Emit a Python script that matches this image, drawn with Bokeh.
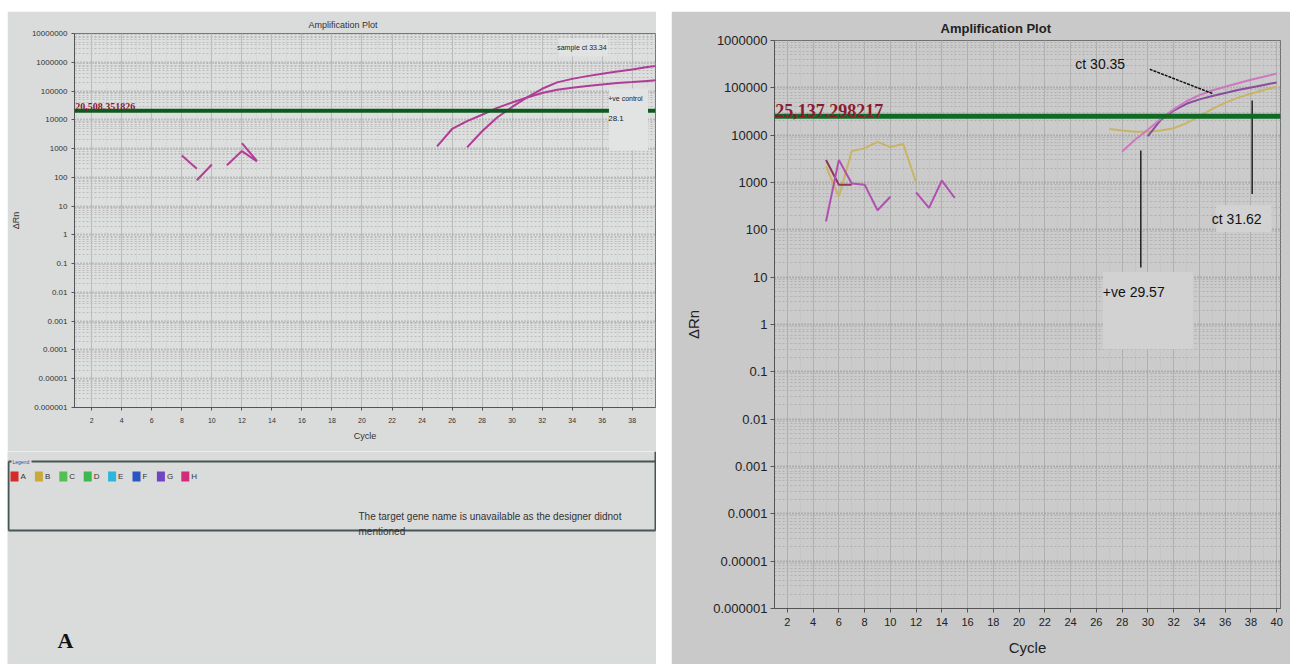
import numpy as np
from bokeh.plotting import figure
from bokeh.models import (Range1d, FixedTicker, CustomJSTickFormatter, Span,
                          BoxAnnotation, Label, Spacer)
from bokeh.layouts import row, column
from bokeh.embed import file_html
from bokeh.resources import INLINE
from bokeh.core.properties import value

# ------------------------------------------------------------------ data
# Panel A
A_THRESHOLD = 20508.351826
A_THRESHOLD_TEXT = "20,508.351826"
A_frag_cycles = [[8, 9], [9, 10], [11, 12, 13], [12, 13]]
A_frag_values = [[575, 200], [79, 280], [263, 820, 360], [1550, 370]]
A_pos_cycles = [25, 26, 27, 28, 29, 30, 31, 32, 33, 34, 35, 36, 37, 38, 39, 40]
A_pos_values = [1200, 4800, 9000, 15000, 26000, 40000, 60000, 85000, 110000,
                130000, 150000, 170000, 190000, 205000, 225000, 245000]
A_smp_cycles = [27, 28, 29, 30, 31, 32, 33, 34, 35, 36, 37, 38, 39, 40]
A_smp_values = [1100, 4000, 12000, 28000, 60000, 120000, 200000, 265000,
                330000, 400000, 480000, 560000, 680000, 790000]
A_x_ticks = [2, 4, 6, 8, 10, 12, 14, 16, 18, 20, 22, 24, 26, 28, 30, 32, 34, 36, 38]
A_legend_labels = ["A", "B", "C", "D", "E", "F", "G", "H"]
A_legend_colors = ["#d42b2b", "#c9a93c", "#52c052", "#3db84f", "#2bb6de",
                   "#2c55c4", "#7442c4", "#d42a7c"]
A_note = ["The target gene name is unavailable as the designer didnot", "mentioned"]

# Panel B
B_THRESHOLD = 25137.298217
B_THRESHOLD_TEXT = "25,137.298217"
B_mag1_cycles = [5, 6, 7, 8, 9, 10]
B_mag1_values = [150, 3000, 950, 900, 260, 500]
B_mag2_cycles = [12, 13, 14, 15]
B_mag2_values = [620, 290, 1100, 470]
B_maroon_cycles = [5, 6, 7]
B_maroon_values = [3000, 900, 900]
B_yel1_cycles = [5, 6, 7, 8, 9, 10, 11, 12]
B_yel1_values = [2200, 500, 4600, 5300, 7200, 5600, 6500, 1000]
B_yel2_cycles = [27, 28, 29, 30, 31, 32, 33, 34, 35, 36, 37, 38, 39, 40]
B_yel2_values = [13500, 12500, 11800, 11800, 12500, 14000, 18000, 25000,
                 36000, 48000, 62000, 75000, 90000, 105000]
B_pink_cycles = [28, 29, 30, 31, 32, 33, 34, 35, 36, 37, 38, 39, 40]
B_pink_values = [4500, 8000, 13000, 22000, 35000, 52000, 70000, 88000,
                 105000, 125000, 148000, 172000, 200000]
B_purp_cycles = [30, 31, 32, 33, 34, 35, 36, 37, 38, 39, 40]
B_purp_values = [9500, 21000, 33000, 46000, 57000, 67000, 78000, 90000,
                 102000, 115000, 130000]
B_x_ticks = [2, 4, 6, 8, 10, 12, 14, 16, 18, 20, 22, 24, 26, 28, 30, 32, 34, 36, 38, 40]
B_ann_ct3035_line = ([30.15, 35.05], [247000, 75000])
B_ann_ct3162_line = ([38.1, 38.1], [54000, 575])
B_ann_pos_line = ([29.45, 29.45], [4750, 16])

SANS = "Liberation Sans"
SERIF = "Liberation Serif"

fmt = CustomJSTickFormatter(code="""
    if (tick >= 1) { return Math.round(tick).toString(); }
    const d = Math.round(-Math.log10(tick));
    return tick.toFixed(d);
""")


def log_ticks(lo, hi):
    major = [10.0 ** k for k in range(lo, hi + 1)]
    minor = [m * 10.0 ** k for k in range(lo, hi) for m in range(2, 10)]
    return major, minor


def style_grid(p, major_color, minor_color, bg):
    p.ygrid.grid_line_color = major_color
    p.ygrid.grid_line_dash = "1 2"
    p.ygrid.grid_line_width = 2
    p.ygrid.minor_grid_line_color = minor_color
    p.ygrid.minor_grid_line_dash = "2 2"
    p.ygrid.minor_grid_line_width = 1
    p.xgrid.grid_line_color = minor_color
    p.xgrid.grid_line_width = 1
    p.xgrid.minor_grid_line_color = minor_color
    p.xgrid.minor_grid_line_alpha = 0.6
    p.xgrid.minor_grid_line_dash = "1 2"
    p.background_fill_color = bg


# ------------------------------------------------------------------ panel A (top)
A_GREY = "#dadbdb"
pa = figure(width=649, height=440, output_backend="svg", toolbar_location=None,
            y_axis_type="log", x_range=Range1d(0.85, 39.55), y_range=Range1d(1e-6, 1e7),
            min_border_left=65, min_border_right=1, min_border_top=22, min_border_bottom=44)
pa.frame_align = False
pa.border_fill_color = A_GREY
pa.outline_line_color = "#777777"
style_grid(pa, "#9a9a9a", "#bcbcbc", "#dddede")
maj, mnr = log_ticks(-6, 7)
pa.yaxis.ticker = FixedTicker(ticks=maj, minor_ticks=mnr)
pa.yaxis.formatter = fmt
pa.xaxis.ticker = FixedTicker(ticks=A_x_ticks, minor_ticks=list(range(1, 40)))
for ax in (pa.xaxis[0], pa.yaxis[0]):
    ax.axis_line_color = "#555555"
    ax.major_tick_line_color = "#555555"
    ax.major_tick_out = 3
    ax.major_tick_in = 0
    ax.minor_tick_line_color = None
    ax.major_label_text_font = SANS
    ax.major_label_text_color = "#333333"
    ax.axis_label_text_font = SANS
    ax.axis_label_text_font_style = "normal"
    ax.axis_label_text_color = "#333333"
pa.yaxis.major_label_text_font_size = "8px"
pa.xaxis.major_label_text_font_size = "7px"
pa.xaxis.major_label_standoff = 6
pa.yaxis.major_label_standoff = 3
pa.yaxis.axis_label = "ΔRn"
pa.xaxis.axis_label = "Cycle"
pa.yaxis.axis_label_text_font_size = "9px"
pa.xaxis.axis_label_text_font_size = "9px"
pa.yaxis.axis_label_standoff = 8
pa.xaxis.axis_label_standoff = 5
pa.title.text = "Amplification Plot"
pa.title.text_font = SANS
pa.title.text_font_size = "9px"
pa.title.text_font_style = "normal"
pa.title.text_color = "#333333"
pa.title.align = "left"
pa.title.offset = 234
pa.title.standoff = 7

# light box behind the sample label
pa.add_layout(BoxAnnotation(left=33.1, right=36.4, bottom=1.6e6, top=7.0e6,
                            fill_color="#e4e5e5", fill_alpha=0.8, line_color=None))
for xs, ys in zip(A_frag_cycles, A_frag_values):
    pa.line(xs, ys, line_color="#b23e98", line_width=2)
pa.line(A_pos_cycles, A_pos_values, line_color="#b03c96", line_width=2)
pa.line(A_smp_cycles, A_smp_values, line_color="#b03c96", line_width=2)
pa.add_layout(Span(location=A_THRESHOLD, dimension="width", line_color="#0e5a1e", line_width=4))
pa.add_layout(BoxAnnotation(left=36.45, right=39.05, bottom=870, top=123000,
                            fill_color="#e2e3e3", fill_alpha=1.0, line_color=None))
pa.add_layout(Label(x=0.9, y=A_THRESHOLD, text=A_THRESHOLD_TEXT, text_font=SERIF,
                    text_font_size="10px", text_font_style="bold", text_color="#8b1a2e",
                    text_baseline="bottom", y_offset=1))
pa.add_layout(Label(x=34.65, y=3.3e6, text="sample ct 33.34", text_font=SANS,
                    text_font_size="7px", text_color="#222222", text_align="center",
                    text_baseline="middle"))
pa.add_layout(Label(x=36.4, y=55000, text="+ve control", text_font=SANS,
                    text_font_size="7px", text_color="#222222", text_baseline="middle"))
pa.add_layout(Label(x=36.4, y=11200, text="28.1", text_font=SANS,
                    text_font_size="8px", text_color="#222222", text_baseline="middle"))

# ------------------------------------------------------------------ panel A (bottom strip)
pb = figure(width=649, height=213, output_backend="svg", toolbar_location=None,
            x_range=Range1d(0, 649), y_range=Range1d(213, 0),
            x_axis_location=None, y_axis_location=None, min_border=0)
pb.frame_align = False
pb.grid.visible = False
pb.outline_line_color = None
pb.background_fill_color = A_GREY
pb.border_fill_color = A_GREY
frame_col = "#465656"
pb.segment(x0=[1, 24, 1, 1, 648], y0=[10, 10, 10, 79, 0],
           x1=[4, 648, 1, 648, 648], y1=[10, 10, 79, 79, 79],
           line_color=frame_col, line_width=2)
pb.text(x=[5], y=[10], text=["Legend"], text_font=value(SANS), text_font_size="5px",
        text_color="#3050a0", text_baseline="middle")
leg_x = [3 + 24.4 * i for i in range(len(A_legend_labels))]
pb.rect(x=[v + 4 for v in leg_x], y=[25] * len(leg_x), width=8, height=10,
        fill_color=A_legend_colors, line_color=None)
pb.text(x=[v + 10 for v in leg_x], y=[25] * len(leg_x), text=A_legend_labels,
        text_font=value(SANS), text_font_size="8px", text_color="#333333",
        text_baseline="middle")
pb.text(x=[351, 351], y=[65, 80], text=A_note, text_font=value(SANS),
        text_font_size="10px", text_color="#333333", text_baseline="middle")
pb.text(x=[50], y=[189], text=["A"], text_font=value(SERIF), text_font_size="22px",
        text_font_style="bold", text_color="#111111", text_baseline="middle")

# ------------------------------------------------------------------ panel B
B_GREY = "#c9c9c9"
pB = figure(width=619, height=653, output_backend="svg", toolbar_location=None,
            y_axis_type="log", x_range=Range1d(1, 40.3), y_range=Range1d(1e-6, 1e6),
            min_border_left=103, min_border_right=10, min_border_top=29, min_border_bottom=56)
pB.frame_align = False
pB.border_fill_color = B_GREY
pB.outline_line_color = "#707070"
style_grid(pB, "#8e8e8e", "#b0b0b0", "#cbcbcb")
majB, mnrB = log_ticks(-6, 6)
pB.yaxis.ticker = FixedTicker(ticks=majB, minor_ticks=mnrB)
pB.yaxis.formatter = fmt
pB.xaxis.ticker = FixedTicker(ticks=B_x_ticks, minor_ticks=list(range(1, 41)))
for ax in (pB.xaxis[0], pB.yaxis[0]):
    ax.axis_line_color = "#555555"
    ax.major_tick_line_color = "#555555"
    ax.major_tick_out = 4
    ax.major_tick_in = 0
    ax.minor_tick_line_color = None
    ax.major_label_text_font = SANS
    ax.major_label_text_color = "#222222"
    ax.axis_label_text_font = SANS
    ax.axis_label_text_font_style = "normal"
    ax.axis_label_text_color = "#222222"
pB.yaxis.major_label_text_font_size = "13px"
pB.xaxis.major_label_text_font_size = "11px"
pB.xaxis.major_label_standoff = 5
pB.yaxis.major_label_standoff = 3
pB.yaxis.axis_label = "ΔRn"
pB.xaxis.axis_label = "Cycle"
pB.yaxis.axis_label_text_font_size = "15px"
pB.xaxis.axis_label_text_font_size = "15px"
pB.yaxis.axis_label_standoff = 8
pB.xaxis.axis_label_standoff = 10
pB.title.text = "Amplification Plot"
pB.title.text_font = SANS
pB.title.text_font_size = "13px"
pB.title.text_font_style = "bold"
pB.title.text_color = "#222222"
pB.title.align = "left"
pB.title.offset = 166
pB.title.standoff = 10

# light patches behind annotations
pB.add_layout(BoxAnnotation(left=26.5, right=33.5, bottom=0.3, top=12.8,
                            fill_color="#d2d2d2", fill_alpha=1.0, line_color=None))
pB.add_layout(BoxAnnotation(left=35.3, right=39.6, bottom=90, top=330,
                            fill_color="#d2d2d2", fill_alpha=1.0, line_color=None))

pB.line(B_yel1_cycles, B_yel1_values, line_color="#c9b466", line_width=2)
pB.line(B_maroon_cycles, B_maroon_values, line_color="#8c3858", line_width=2)
pB.line(B_mag1_cycles, B_mag1_values, line_color="#b050b0", line_width=2)
pB.line(B_mag2_cycles, B_mag2_values, line_color="#b050b0", line_width=2)
pB.add_layout(Span(location=B_THRESHOLD, dimension="width", line_color="#0f6a24", line_width=5))
pB.line(B_yel2_cycles, B_yel2_values, line_color="#c9b466", line_width=2)
pB.line(B_purp_cycles, B_purp_values, line_color="#8a4c9c", line_width=2)
pB.line(B_pink_cycles, B_pink_values, line_color="#cc78c0", line_width=2)

pB.line(*B_ann_ct3035_line, line_color="#111111", line_width=1.5, line_dash="3 1")
pB.line(*B_ann_ct3162_line, line_color="#222222", line_width=1.5)
pB.line(*B_ann_pos_line, line_color="#222222", line_width=1.5)
pB.add_layout(Label(x=1.05, y=B_THRESHOLD, text=B_THRESHOLD_TEXT, text_font=SERIF,
                    text_font_size="18px", text_font_style="bold", text_color="#8b1a2e",
                    text_baseline="bottom", y_offset=-1))
pB.add_layout(Label(x=26.3, y=326000, text="ct 30.35", text_font=SANS,
                    text_font_size="14px", text_color="#111111", text_align="center",
                    text_baseline="middle"))
pB.add_layout(Label(x=36.9, y=170, text="ct 31.62", text_font=SANS,
                    text_font_size="14px", text_color="#111111", text_align="center",
                    text_baseline="middle"))
pB.add_layout(Label(x=28.9, y=4.8, text="+ve 29.57", text_font=SANS,
                    text_font_size="14px", text_color="#111111", text_align="center",
                    text_baseline="middle"))
pB.add_layout(Label(x=-61, y=-55, x_units="screen", y_units="screen", text="B",
                    text_font=SERIF, text_font_size="22px", text_font_style="bold",
                    text_color="#111111", text_baseline="bottom"))

layout = column(Spacer(width=1290, height=11),
                row(Spacer(width=7, height=653), column(pa, pb), Spacer(width=15, height=653), pB))

open("out.html", "w").write(file_html(layout, INLINE))
